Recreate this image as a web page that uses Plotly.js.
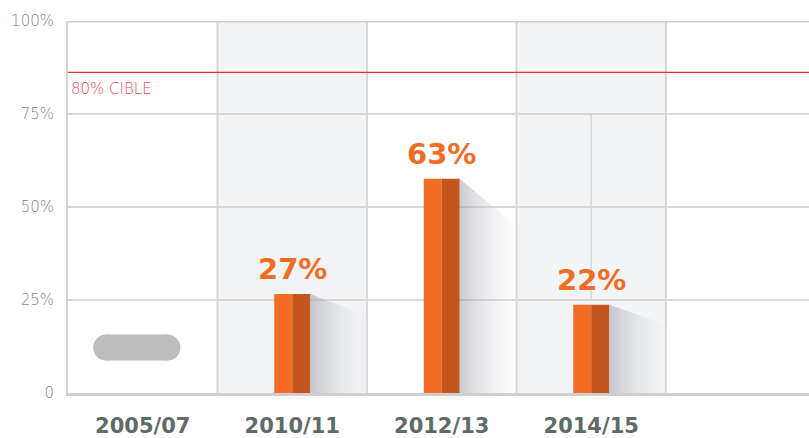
<!DOCTYPE html>
<html>
<head>
<meta charset="utf-8">
<script src="https://cdn.plot.ly/plotly-3.0.1.min.js"></script>
<style>
  html, body { margin: 0; padding: 0; background: #ffffff; }
  #chart { width: 809px; height: 438px; }
</style>
</head>
<body>
<div id="chart"></div>
<script>
// ---- data ----
const categories = ["2005/07", "2010/11", "2012/13", "2014/15"];
const barValues = [null, 26.6, 57.6, 23.7];          // bar heights as drawn (%)
const barLabels = ["", "27%", "63%", "22%"];          // printed values
const noDataLevel = 12.2;                             // grey placeholder pill for 2005/07
const targetLevel = 86.2;                             // red target line as drawn
const targetLabel = "80% CIBLE";
const yTickVals = [0, 25, 50, 75, 100];
const yTickText = ["0", "25%", "50%", "75%", "100%"];
const shadedColumns = [1, 3];

// ---- style ----
const ORANGE = "#F26C23";
const ORANGE_DARK = "#C2561E";
const HALF = 0.12;
const xIdx = categories.map((_, i) => i);

const traces = [];

// shadows
barValues.forEach((v, i) => {
  if (v == null) return;
  const xr = i + HALF;
  traces.push({
    type: "scatter", mode: "lines",
    x: [xr, xr + 0.48, xr + 0.48, xr, xr],
    y: [v, v * 0.72, 0, 0, v],
    fill: "toself",
    fillgradient: {
      type: "horizontal",
      colorscale: [[0, "rgba(150,152,162,0.5)"], [0.45, "rgba(205,206,212,0.3)"], [1, "rgba(255,255,255,0)"]]
    },
    line: { width: 0, color: "rgba(0,0,0,0)" },
    hoverinfo: "skip", showlegend: false
  });
});

// two-tone bars
traces.push({
  type: "bar", x: xIdx, y: barValues, width: HALF, offset: -HALF,
  marker: { color: ORANGE, line: { width: 0 } }, showlegend: false, hoverinfo: "skip"
});
traces.push({
  type: "bar", x: xIdx, y: barValues, width: HALF, offset: 0,
  marker: { color: ORANGE_DARK, line: { width: 0 } }, showlegend: false, hoverinfo: "skip"
});

// grey no-data pill
traces.push({
  type: "scatter", mode: "lines+markers",
  x: [xIdx[0] - 0.245, xIdx[0] + 0.165], y: [noDataLevel, noDataLevel],
  line: { color: "#BDBDBD", width: 26 },
  marker: { color: "#BDBDBD", size: 26, symbol: "circle", line: { width: 0 } },
  hoverinfo: "skip", showlegend: false
});

const shapes = [];
shadedColumns.forEach(i => {
  shapes.push({ type: "rect", layer: "below", xref: "x", yref: "y",
    x0: i - 0.5, x1: i + 0.5, y0: 0, y1: 100,
    fillcolor: "#F3F4F6", line: { width: 0 } });
});
for (let i = 0; i < categories.length; i++) {
  shapes.push({ type: "line", layer: "below", xref: "x", yref: "y",
    x0: i + 0.5, x1: i + 0.5, y0: 0, y1: 100,
    line: { color: "#D6D6D6", width: 2 } });
}
// faint line in last column
shapes.push({ type: "line", layer: "below", xref: "x", yref: "y",
  x0: 3, x1: 3, y0: 25, y1: 75, line: { color: "#DADADA", width: 1.5 } });
// top border
shapes.push({ type: "line", layer: "above", xref: "paper", yref: "y",
  x0: 0, x1: 1, y0: 100, y1: 100, line: { color: "#CFCFCF", width: 3 } });
// target line
shapes.push({ type: "line", layer: "above", xref: "paper", yref: "y",
  x0: 0, x1: 1, y0: targetLevel, y1: targetLevel, line: { color: "#EE2A32", width: 1.2 } });

const annotations = [];
barValues.forEach((v, i) => {
  if (v == null) return;
  annotations.push({
    x: i, y: v, xref: "x", yref: "y", text: barLabels[i],
    showarrow: false, yanchor: "bottom", xanchor: "center", yshift: 6,
    font: { family: "DejaVu Sans", size: 29, color: ORANGE, weight: 700 }
  });
});
annotations.push({
  x: 0, y: targetLevel, xref: "paper", yref: "y", text: targetLabel,
  showarrow: false, xanchor: "left", yanchor: "top", xshift: 1, yshift: -6,
  font: { family: "DejaVu Sans", size: 15, color: "#EE4A55", weight: 200 }
});

const layout = {
  width: 809, height: 438,
  margin: { l: 68, r: 0, t: 21, b: 45 },
  paper_bgcolor: "#ffffff", plot_bgcolor: "#ffffff",
  barmode: "overlay",
  showlegend: false,
  xaxis: {
    type: "linear", range: [-0.5, 4.457],
    tickvals: xIdx, ticktext: categories,
    showgrid: false, zeroline: false,
    showline: true, linecolor: "#CFCFCF", linewidth: 3,
    ticks: "", ticklabelstandoff: 12,
    tickfont: { family: "DejaVu Sans", size: 21, color: "#5E6B67", weight: 700 },
    fixedrange: true
  },
  yaxis: {
    range: [0, 100],
    tickvals: yTickVals, ticktext: yTickText,
    showgrid: true, gridcolor: "#D8D8D8", gridwidth: 1.5,
    zeroline: false,
    showline: true, linecolor: "#D3D3D3", linewidth: 2,
    ticks: "", ticklabelstandoff: 9,
    tickfont: { family: "DejaVu Sans", size: 15, color: "#7F8785", weight: 200 },
    fixedrange: true
  },
  shapes: shapes,
  annotations: annotations
};

Plotly.newPlot("chart", traces, layout, { displayModeBar: false, staticPlot: true });
</script>
</body>
</html>
